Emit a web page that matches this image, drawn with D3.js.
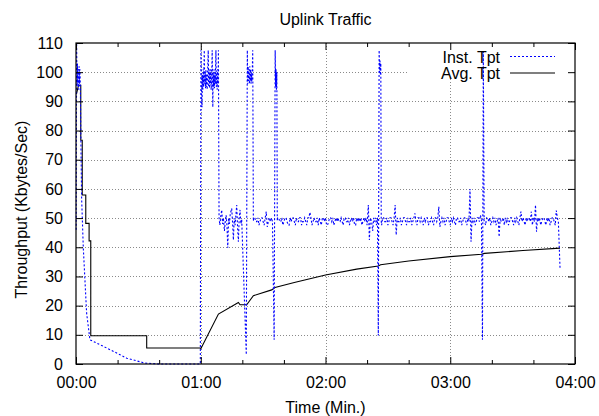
<!DOCTYPE html>
<html>
<head>
<meta charset="utf-8">
<script src="https://cdn.jsdelivr.net/npm/d3@7"></script>
<style>
  html, body { margin: 0; padding: 0; background: #fff; }
  svg { display: block; }
  text { font-family: "Liberation Sans", Arial, Helvetica, sans-serif; fill: #000; }
</style>
</head>
<body>
<svg id="chart" width="599" height="416"></svg>
<script>
// ---------------- data ----------------
const chartTitle = "Uplink Traffic";
const xTitle = "Time (Min.)";
const yTitle = "Throughput (Kbytes/Sec)";
const seriesNames = ["Inst. Tpt", "Avg. Tpt"];

// x ticks (seconds) and their labels
const xMajorTicks = [0, 60, 120, 180, 240];
const xTickLabels = ["00:00", "01:00", "02:00", "03:00", "04:00"];
const xMinorTicks = [20, 40, 80, 100, 140, 160, 200, 220];
const yTicks = [0, 10, 20, 30, 40, 50, 60, 70, 80, 90, 100, 110];

// Instantaneous throughput: time (s) and value (KB/s)
const instTime = [
  0.1, 0.3, 0.5, 0.7, 0.9, 1.1, 1.3, 1.5, 1.7, 1.9, 2.1, 2.3, 2.7, 3.5, 5.1, 6.7, 16.4, 24.4, 33.2, 40, 50, 59.8,
  60.1, 60.3, 60.6, 60.8, 61.0, 61.2, 61.4, 61.7, 61.9, 62.1, 62.3, 62.5, 62.7, 62.9, 63.1, 63.3, 63.6, 63.8,
  64.0, 64.2, 64.4, 64.6, 64.8, 65.0, 65.3, 65.5, 65.8, 66.0, 66.2, 66.4, 66.6, 66.8, 67.0, 67.3, 67.5, 67.7,
  67.9, 68.1, 68.3, 68.5,
  68.8, 69.2, 69.6, 70.1, 70.5, 70.9, 71.4, 71.8, 72.2, 72.6, 73.0, 73.4, 73.8, 74.2, 74.9, 75.3, 75.7, 76.1,
  76.5, 76.9, 77.3, 77.7, 78.1, 78.5, 78.9, 79.3, 79.7, 81.9, 82.4,
  82.6, 82.8, 83.0, 83.2, 83.4, 83.6, 83.8, 84.0, 84.2, 84.4, 84.6, 84.8, 85.0, 85.3,
  85.5, 86, 86.5, 87, 87.5, 88, 88.5, 89, 89.5, 90, 90.5, 91, 91.5, 92, 92.5, 93, 93.5, 94, 94.5,
  95.3, 95.8, 96.0, 96.2, 96.4, 96.6, 96.8,
  97, 97.5, 98, 98.5, 99, 99.5, 100, 100.5, 101, 101.5, 102, 102.5, 103, 103.5, 104, 104.5, 105, 105.5, 106, 106.5,
  107, 107.5, 108, 108.5, 109, 109.5, 110, 110.5, 111, 111.5, 112, 112.5, 113, 113.5, 114, 114.5, 115, 115.5, 116, 116.5,
  117, 117.5, 118, 118.5, 119, 119.5, 120, 120.5, 121, 121.5, 122, 122.5, 123, 123.5, 124, 124.5, 125, 125.5, 126, 126.5,
  127, 127.5, 128, 128.5, 129, 129.5, 130, 130.5, 131, 131.5, 132, 132.5, 133, 133.5, 134, 134.5, 135, 135.5, 136, 136.5,
  137, 137.5, 138, 138.5, 139, 139.5, 140,
  140.6, 141.1, 141.6, 142.2, 142.7, 143.2, 143.5, 144, 144.5, 145, 145.4, 145.8, 146.0, 146.2, 146.4, 146.6, 146.8,
  147, 147.5, 148, 148.5, 149, 149.5, 150, 150.5, 151, 151.5, 152, 152.5, 153, 153.5, 154, 154.5, 155, 155.5, 156, 156.5,
  157, 157.5, 158, 158.5, 159, 159.5, 160, 160.5, 161, 161.5, 162, 162.5, 163, 163.5, 164, 164.5, 165, 165.5, 166, 166.5,
  167, 167.5, 168, 168.5, 169, 169.5, 170, 170.5, 171, 171.5, 172, 172.5, 173, 173.5, 174, 174.5, 175, 175.5, 176, 176.5,
  177, 177.5, 178, 178.5, 179, 179.5, 180, 180.5, 181, 181.5, 182, 182.5, 183, 183.5, 184, 184.5, 185, 185.5, 186, 186.5,
  187, 187.5, 188, 188.5, 189, 189.5, 190, 190.5, 191, 191.5, 192, 192.5, 193, 193.5, 194, 194.5, 195,
  195.5, 195.9, 196.3,
  197, 197.5, 198, 198.5, 199, 199.5, 200, 200.5, 201, 201.5, 202, 202.5, 203, 203.5, 204, 204.5, 205, 205.5, 206, 206.5,
  207, 207.5, 208, 208.5, 209, 209.5, 210, 210.5, 211, 211.5, 212, 212.5, 213, 213.5, 214, 214.5, 215, 215.5, 216, 216.5,
  217, 217.5, 218, 218.5, 219, 219.5, 220, 220.5, 221, 221.5, 222, 222.5, 223, 223.5, 224, 224.5, 225, 225.5, 226, 226.5,
  227, 227.5, 228, 228.5, 229, 229.5, 230, 230.5, 231, 231.5, 232,
  232.8
];
const instTpt = [
  46, 110, 96, 103, 95, 101, 94, 102, 96, 101, 95, 80, 57, 40, 17.5, 8.3, 4.9, 2.0, 0.3, 0, 0, 0,
  107.5, 96, 88, 99, 94, 101, 95, 107.5, 96, 100, 94.5, 101, 95, 99, 94, 100, 107.5, 95,
  101, 94.5, 100, 96, 101, 94, 99, 107.5, 88, 100, 95, 101, 94.5, 99, 96, 107.5, 95, 100,
  94, 101, 96, 107.5,
  50, 47.6, 50.5, 52.8, 48, 50, 45.6, 49, 51, 47.5, 39.8, 50, 48, 51.5, 53.3, 48.5, 42.5, 50,
  47.6, 51, 54.5, 47, 41.9, 50, 52.8, 48, 49.5, 3.2, 107.5,
  96, 102, 97, 101, 96, 102, 97, 101, 96, 100, 97, 101, 107.5, 49,
  50.1, 50.1, 48.8, 48.8, 50.1, 47.6, 48.8, 50.1, 50.1, 48.8, 47.6, 50.1, 52.2, 47, 48.8, 50.1, 48.8, 50.1, 48.8,
  8.3, 107.5, 95, 101, 94, 100, 49,
  50.1, 50.1, 48.8, 48.8, 50.1, 47.6, 48.8, 50.1, 50.1, 48.8, 47.6, 47.6, 50.1, 48.8, 50.1, 50.1, 48.8, 47.6, 50.1, 48.8,
  48.8, 50.1, 50.1, 47.6, 48.8, 48.8, 50.1, 48.8, 47.6, 50.1, 50.1, 52, 50.1, 47.6, 48.8, 50.1, 48.8, 48.8, 50.1, 47.6,
  50.1, 48.8, 47.6, 50.1, 50.1, 48.8, 50.1, 47.6, 47.6, 48.8, 50.1, 50.1, 48.8, 50.1, 47.6, 48.8, 50.1, 48.8, 50.1, 48.8,
  48.8, 50.1, 48.8, 47.6, 50.1, 50.1, 48.8, 48.8, 50.1, 47.6, 48.8, 50.1, 48.8, 50.1, 47.6, 47.6, 50.1, 48.8, 50.1, 48.8,
  50.1, 47.6, 48.8, 50.1, 48.8, 50.1, 47.6,
  54.5, 42.5, 50.1, 48.8, 45.6, 50.1, 48.8, 50.1, 47.6, 50.1, 9.8, 107.5, 100, 104, 99, 103, 49,
  47.6, 50.1, 50.1, 48.8, 48.8, 50.1, 47.6, 48.8, 50.1, 50.1, 48.8, 47.6, 50.1, 54.5, 44.2, 50.1, 48.8, 48.8, 50.1, 47.6,
  48.8, 50.1, 50.1, 48.8, 47.6, 50.1, 48.8, 48.8, 50.1, 47.6, 48.8, 50.1, 51.6, 48.8, 47.6, 50.1, 50.1, 48.8, 50.1, 48.8,
  47.6, 50.1, 48.8, 50.1, 50.1, 47.6, 48.8, 48.8, 50.1, 48.8, 47.6, 50.1, 50.1, 48.8, 50.1, 53.9, 47, 48.8, 50.1, 48.8,
  50.1, 47.6, 48.8, 50.1, 50.1, 48.8, 47.6, 50.1, 48.8, 50.1, 48.8, 47.6, 50.1, 50.1, 48.8, 48.8, 50.1, 47.6, 48.8, 50.1,
  50.1, 48.8, 47.6, 50.1, 48.8, 60, 41.9, 50.1, 48.8, 50.1, 47.6, 48.8, 50.1, 50.1, 48.8, 51, 49.5,
  8.3, 107, 49,
  47.6, 50.1, 50.1, 48.8, 50.1, 47.6, 48.8, 50.1, 48.8, 50.1, 47.6, 48.8, 50.1, 43.6, 50.1, 48.8, 48.8, 50.1, 47.6, 50.1,
  48.8, 50.1, 47.6, 48.8, 50.1, 50.1, 48.8, 47.6, 50.1, 48.8, 50.1, 48.8, 47.6, 50.1, 52.2, 48.8, 50.1, 48.8, 47.6, 50.1,
  48.8, 50.1, 50.1, 48.8, 52.2, 47.6, 50.1, 48.8, 54.5, 45.3, 50.1, 48.8, 50.1, 47.6, 48.8, 50.1, 50.1, 48.8, 47.6, 50.1,
  48.8, 50.1, 47.6, 48.8, 50.1, 50.1, 48.8, 47.6, 52.6, 50.1, 48.8,
  32.8
];

// Average throughput: time (s) and value (KB/s)
const avgTime = [
  0.2, 1.2, 2.3, 2.3, 3.0, 3.0, 4.7, 4.7, 6.3, 6.3, 7.1, 7.1, 34, 34, 59.6,
  60.1, 68.5, 78.1, 78.9, 82.1, 85.3, 94.1, 95.7, 105, 120, 135, 145.4, 146.5, 160, 180, 195.1, 196.5, 215, 232.8
];
const avgTpt = [
  92.5, 95.5, 95.5, 76.7, 76.7, 57.9, 57.9, 48.2, 48.2, 42.2, 42.2, 9.7, 9.7, 5.5, 5.5,
  5.3, 17.1, 21.1, 20.3, 20.3, 23.4, 25.4, 26.2, 27.9, 30.5, 32.5, 33.6, 34.0, 35.3, 36.8, 37.6, 37.9, 38.9, 39.7
];

// ---------------- chart ----------------
const svg = d3.select("#chart");
const W = 599, H = 416;
const plot = { left: 76, right: 575, top: 43, bottom: 364 };
const FONT = 16;

const x = d3.scaleLinear().domain([0, 240]).range([plot.left, plot.right]);
const y = d3.scaleLinear().domain([0, 110]).range([plot.bottom, plot.top]);

svg.append("rect").attr("width", W).attr("height", H).attr("fill", "#fff");

// grid
const grid = svg.append("g").attr("class", "grid")
  .attr("stroke", "#8a8a8a").attr("stroke-width", 1).attr("stroke-dasharray", "1,2").attr("fill", "none");
grid.selectAll("line.h").data(yTicks.filter(v => v > 0 && v < 110)).join("line")
  .attr("class", "h")
  .attr("x1", plot.left).attr("x2", plot.right)
  .attr("y1", d => Math.round(y(d)) + 0.5).attr("y2", d => Math.round(y(d)) + 0.5);
grid.selectAll("line.v").data(xMajorTicks.filter(v => v > 0 && v < 240)).join("line")
  .attr("class", "v")
  .attr("y1", plot.top).attr("y2", plot.bottom)
  .attr("x1", d => Math.round(x(d)) + 0.5).attr("x2", d => Math.round(x(d)) + 0.5);

// legend (key) layout
const keyTextRight = 500;
const keySampleX1 = 510, keySampleX2 = 555;
const keyRows = [62.5, 79];
// blank the grid under the key area
svg.append("rect")
  .attr("x", 409).attr("y", plot.top + 1)
  .attr("width", plot.right - 409 - 1).attr("height", 77 - plot.top)
  .attr("fill", "#fff");

// lines
const instData = instTime.map((t, i) => [t, instTpt[i]]);
const avgData = avgTime.map((t, i) => [t, avgTpt[i]]);
const line = d3.line().x(d => x(d[0])).y(d => y(d[1]));

svg.append("path").datum(avgData)
  .attr("d", line).attr("fill", "none").attr("stroke", "#000").attr("stroke-width", 1.1);
svg.append("path").datum(instData)
  .attr("d", line).attr("fill", "none").attr("stroke", "#0000ff").attr("stroke-width", 1.1)
  .attr("stroke-dasharray", "2,2");

// axes (inward ticks, mirrored)
const fmtTick = d => xTickLabels[xMajorTicks.indexOf(d)];
const gx = svg.append("g").attr("transform", `translate(0,${plot.bottom})`)
  .call(d3.axisBottom(x).tickValues(xMajorTicks).tickFormat(fmtTick).tickSize(-7).tickPadding(13));
const gxMinor = svg.append("g").attr("transform", `translate(0,${plot.bottom})`)
  .call(d3.axisBottom(x).tickValues(xMinorTicks).tickFormat("").tickSize(-4));
const gxTop = svg.append("g").attr("transform", `translate(0,${plot.top})`)
  .call(d3.axisTop(x).tickValues(xMajorTicks).tickFormat("").tickSize(-7));
const gxTopMinor = svg.append("g").attr("transform", `translate(0,${plot.top})`)
  .call(d3.axisTop(x).tickValues(xMinorTicks).tickFormat("").tickSize(-4));
const gy = svg.append("g").attr("transform", `translate(${plot.left},0)`)
  .call(d3.axisLeft(y).tickValues(yTicks).tickSize(-7).tickPadding(13));
const gyR = svg.append("g").attr("transform", `translate(${plot.right},0)`)
  .call(d3.axisRight(y).tickValues(yTicks).tickFormat("").tickSize(-7));

[gx, gxMinor, gxTop, gxTopMinor, gy, gyR].forEach(g => {
  g.select(".domain").remove();
  g.selectAll("line").attr("stroke", "#000");
  g.selectAll("text").attr("font-size", FONT).attr("fill", "#000")
    .attr("font-family", '"Liberation Sans", Arial, sans-serif');
});

// border
svg.append("rect")
  .attr("x", plot.left).attr("y", plot.top)
  .attr("width", plot.right - plot.left).attr("height", plot.bottom - plot.top)
  .attr("fill", "none").attr("stroke", "#000").attr("stroke-width", 1.2);

// titles
svg.append("text").attr("x", (plot.left + plot.right) / 2).attr("y", 25)
  .attr("text-anchor", "middle").attr("font-size", FONT).text(chartTitle);
svg.append("text").attr("x", (plot.left + plot.right) / 2).attr("y", 413)
  .attr("text-anchor", "middle").attr("font-size", FONT).text(xTitle);
svg.append("text").attr("transform", `translate(27,${(plot.top + plot.bottom) / 2 + 6}) rotate(-90)`)
  .attr("text-anchor", "middle").attr("font-size", FONT).text(yTitle);

// legend
const key = svg.append("g");
const keyStyles = [
  { stroke: "#0000ff", dash: "2,2" },
  { stroke: "#000", dash: null }
];
seriesNames.forEach((name, i) => {
  key.append("text").attr("x", keyTextRight).attr("y", keyRows[i])
    .attr("text-anchor", "end").attr("font-size", FONT).text(name);
  key.append("line")
    .attr("x1", keySampleX1).attr("x2", keySampleX2)
    .attr("y1", keyRows[i] - 6).attr("y2", keyRows[i] - 6)
    .attr("stroke", keyStyles[i].stroke).attr("stroke-width", 1.1)
    .attr("stroke-dasharray", keyStyles[i].dash);
});
</script>
</body>
</html>
